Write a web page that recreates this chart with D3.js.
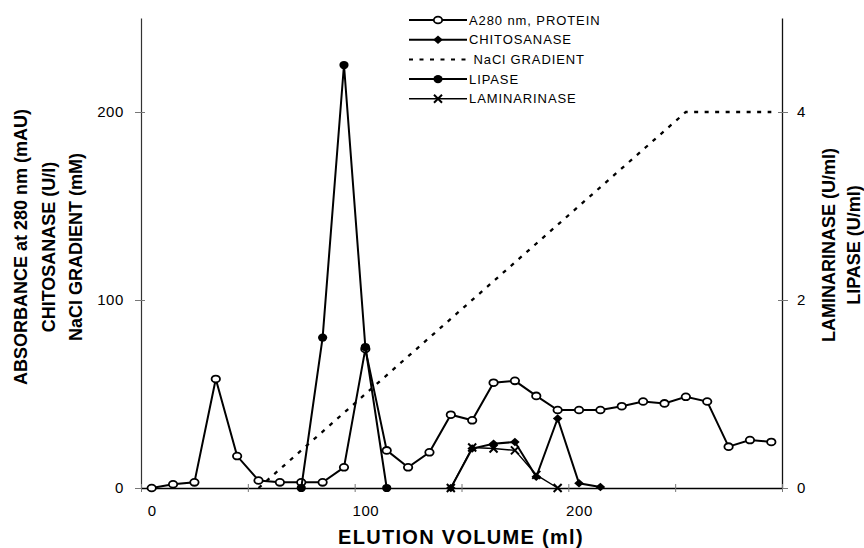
<!DOCTYPE html>
<html lang="en">
<head>
<meta charset="utf-8">
<title>Elution profile</title>
<script src="https://d3js.org/d3.v7.min.js"></script>
<style>
  body { margin: 0; background: #fff; }
  text { font-family: Arial, "Liberation Sans", sans-serif; fill: #000; }
</style>
</head>
<body>
<script>
// elution volume (ml), one fraction every 10 ml
const volume = [0, 10, 20, 30, 40, 50, 60, 70, 80, 90, 100, 110, 120, 130, 140,
                150, 160, 170, 180, 190, 200, 210, 220, 230, 240, 250, 260, 270, 280, 290]
// A280 nm (mAU), left axis
const protein = [0, 2, 3, 58, 17, 4, 3, 3, 3, 11, 74, 20, 11, 19, 39,
                 36, 56, 57, 49, 41.5, 41.5, 41.5, 43.5, 46, 45, 48.5, 46, 22, 25.5, 24.5]
// chitosanase (U/l), left axis
const chitoVolume = [140, 150, 160, 170, 180, 190, 200, 210]
const chitosanase = [0, 21, 23.5, 24.5, 6, 37, 2.5, 0.5]
// NaCl gradient (mM), left axis
const naclVolume = [50, 250, 290]
const nacl = [0, 200, 200]
// lipase (U/ml), right axis
const lipaseVolume = [70, 80, 90, 100, 110]
const lipase = [0, 1.6, 4.5, 1.5, 0]
// laminarinase (U/ml), right axis
const laminVolume = [140, 150, 160, 170, 180, 190]
const laminarinase = [0, 0.43, 0.42, 0.4, 0.14, 0]

const leftTicks = [0, 100, 200]
const rightTicks = [0, 2, 4]
const xLabelTicks = [0, 100, 200]
const xMarkTicks = [-5, 45, 95, 145, 195, 245, 295]
const legendNames = ["A280 nm, PROTEIN", "CHITOSANASE", " NaCl GRADIENT", "LIPASE", "LAMINARINASE"]
const legendKinds = ["open", "diamond", "dash", "filled", "cross"]

const measurements = { width: 864, height: 548, left: 141, right: 782, top: 18, bottom: 488 }

const svg = d3.select('body').append('svg')
    .attr('width', measurements.width)
    .attr('height', measurements.height)

const scaleX = d3.scaleLinear().domain([-5, 295]).range([measurements.left, measurements.right])
const scaleY = d3.scaleLinear().domain([0, 250]).range([measurements.bottom, measurements.top])
const scaleY2 = d3.scaleLinear().domain([0, 5]).range([measurements.bottom, measurements.top])

// axes
const leftAxis = svg.append('g')
    .attr('transform', 'translate(' + measurements.left + ',0)')
    .call(d3.axisLeft(scaleY).tickValues(leftTicks).tickSize(6).tickSizeOuter(0).tickPadding(11))
leftAxis.selectAll('.tick line').attr('x2', 4).attr('x1', -6).attr('stroke', '#777')
leftAxis.select('.domain').attr('stroke', '#333').attr('stroke-width', 1.2)

const rightAxis = svg.append('g')
    .attr('transform', 'translate(' + measurements.right + ',0)')
    .call(d3.axisRight(scaleY2).tickValues(rightTicks).tickFormat(d3.format('d'))
        .tickSize(6).tickSizeOuter(0).tickPadding(9))
rightAxis.selectAll('.tick line').attr('x1', -4).attr('stroke', '#777')
rightAxis.select('.domain').attr('stroke', '#111').attr('stroke-width', 1.3)

const bottomMarks = svg.append('g')
    .attr('transform', 'translate(0,' + measurements.bottom + ')')
    .call(d3.axisBottom(scaleX).tickValues(xMarkTicks).tickFormat('').tickSize(4).tickSizeOuter(0))
bottomMarks.selectAll('.tick line').attr('y1', -4).attr('stroke', '#777')
bottomMarks.select('.domain').attr('stroke', '#000').attr('stroke-width', 1.6)

const bottomLabels = svg.append('g')
    .attr('transform', 'translate(0,' + measurements.bottom + ')')
    .call(d3.axisBottom(scaleX).tickValues(xLabelTicks).tickSize(0).tickPadding(17))
bottomLabels.select('.domain').remove()

svg.selectAll('.tick text')
    .style('font-size', '15px')
    .style('letter-spacing', '0.6px')
    .style('font-family', 'Arial, "Liberation Sans", sans-serif')
    .attr('fill', '#000')

// axis titles
const leftTitles = ["ABSORBANCE at 280 nm (mAU)", "CHITOSANASE (U/l)", "NaCl GRADIENT (mM)"]
svg.selectAll('.ytitle')
    .data(leftTitles)
    .enter()
    .append('text')
    .attr('class', 'ytitle')
    .attr('transform', (d, i) => 'translate(' + (27 + i * 27.5) + ',247) rotate(-90)')
    .style('text-anchor', 'middle')
    .style('font-size', '18px')
    .style('font-weight', 'bold')
    .text(d => d)

const rightTitles = ["LAMINARINASE (U/ml)", "LIPASE (U/ml)"]
svg.selectAll('.y2title')
    .data(rightTitles)
    .enter()
    .append('text')
    .attr('class', 'y2title')
    .attr('transform', (d, i) => 'translate(' + (835 + i * 25) + ',245) rotate(-90)')
    .style('text-anchor', 'middle')
    .style('font-size', '18px')
    .style('font-weight', 'bold')
    .text(d => d)

svg.append('text')
    .attr('x', 461)
    .attr('y', 544)
    .style('text-anchor', 'middle')
    .style('font-size', '20px')
    .style('font-weight', 'bold')
    .style('letter-spacing', '1.3px')
    .text("ELUTION VOLUME (ml)")

// marker drawing
function drawMarker(g, kind) {
    if (kind === 'open') {
        g.append('ellipse').attr('rx', 4.2).attr('ry', 3.4)
            .attr('fill', '#fff').attr('stroke', '#000').attr('stroke-width', 1.8)
    } else if (kind === 'filled') {
        g.append('ellipse').attr('rx', 4.6).attr('ry', 4.1).attr('fill', '#000')
    } else if (kind === 'diamond') {
        g.append('path').attr('d', 'M0,-4.2L4.8,0L0,4.2L-4.8,0Z').attr('fill', '#000')
    } else if (kind === 'cross') {
        g.append('path').attr('d', 'M-4,-4L4,4M-4,4L4,-4')
            .attr('stroke', '#000').attr('stroke-width', 2).attr('fill', 'none')
    }
}

function drawSeries(xs, ys, scale, kind, width, dash) {
    const pts = d3.zip(xs, ys)
    const line = d3.line().x(d => scaleX(d[0])).y(d => scale(d[1]))
    svg.append('path')
        .datum(pts)
        .attr('d', line)
        .attr('fill', 'none')
        .attr('stroke', '#000')
        .attr('stroke-width', width)
        .attr('stroke-dasharray', dash || null)
    if (kind === 'dash') return
    svg.append('g').selectAll('g')
        .data(pts)
        .enter()
        .append('g')
        .attr('transform', d => 'translate(' + scaleX(d[0]) + ',' + scale(d[1]) + ')')
        .each(function () { drawMarker(d3.select(this), kind) })
}

drawSeries(volume, protein, scaleY, 'open', 2)
drawSeries(chitoVolume, chitosanase, scaleY, 'diamond', 2)
drawSeries(naclVolume, nacl, scaleY, 'dash', 2.3, '4,6.5')
drawSeries(lipaseVolume, lipase, scaleY2, 'filled', 2)
drawSeries(laminVolume, laminarinase, scaleY2, 'cross', 1.4)

// legend
const legend = svg.append('g')
legendNames.forEach(function (name, i) {
    const y = 20 + i * 19.7
    legend.append('line')
        .attr('x1', 409).attr('x2', 467).attr('y1', y).attr('y2', y)
        .attr('stroke', '#000')
        .attr('stroke-width', legendKinds[i] === 'cross' ? 1.4 : 2)
        .attr('stroke-dasharray', legendKinds[i] === 'dash' ? '4,6.5' : null)
    const m = legend.append('g').attr('transform', 'translate(438,' + y + ')')
    drawMarker(m, legendKinds[i])
    legend.append('text')
        .attr('x', 469)
        .attr('y', y + 4.6)
        .style('font-size', '13px')
        .style('letter-spacing', '0.9px')
        .style('white-space', 'pre')
        .text(name)
})
</script>
</body>
</html>
